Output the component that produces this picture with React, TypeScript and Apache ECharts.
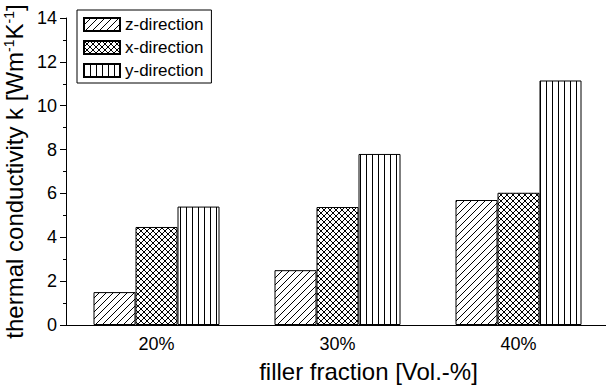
import React, { useEffect, useRef } from 'react';
import * as echarts from 'echarts';

const categories = ['20%', '30%', '40%'];
const seriesNames = ['z-direction', 'x-direction', 'y-direction'];
const zDirection = [1.5, 2.5, 5.7];
const xDirection = [4.47, 5.38, 6.03];
const yDirection = [5.4, 7.8, 11.15];
const yMin = 0;
const yMax = 14;
const yInterval = 2;

const FONT = '"Liberation Sans", Arial, Helvetica, sans-serif';

function tile(w: number, h: number, d: string) {
  const svg = `<svg xmlns="http://www.w3.org/2000/svg" width="${w}" height="${h}"><rect width="${w}" height="${h}" fill="#fff"/><path d="${d}" stroke="#000" stroke-width="1" fill="none"/></svg>`;
  return {
    image: 'data:image/svg+xml;charset=utf-8,' + encodeURIComponent(svg),
    repeat: 'repeat',
    imageWidth: w,
    imageHeight: h,
  } as any;
}

const diagPattern = tile(7, 7, 'M-1,8 L8,-1 M-1,1 L1,-1 M6,8 L8,6');
const crossPattern = tile(6, 6, 'M-1,-1 L7,7 M-1,7 L7,-1');
const vertPattern = tile(6, 6, 'M0.5,0 L0.5,6');

export default function App() {
  const ref = useRef<HTMLDivElement>(null);
  useEffect(() => {
    if (!ref.current) return;
    const chart = echarts.init(ref.current, null, { renderer: 'svg' });
    const patterns = [diagPattern, crossPattern, vertPattern];
    const values = [zDirection, xDirection, yDirection];
    chart.setOption({
      animation: false,
      backgroundColor: '#fff',
      textStyle: { fontFamily: FONT },
      grid: { left: 66, right: -3, top: 18, bottom: 66, containLabel: false, outerBoundsMode: 'none' },
      legend: {
        orient: 'vertical',
        left: 77,
        top: 10,
        icon: 'rect',
        itemWidth: 36,
        itemHeight: 13,
        itemGap: 6,
        padding: [6, 8, 4, 6],
        borderColor: '#000',
        borderWidth: 1,
        data: seriesNames,
        textStyle: { fontSize: 17, color: '#000', fontFamily: FONT },
      },
      xAxis: {
        type: 'category',
        data: categories,
        name: 'filler fraction [Vol.-%]',
        nameLocation: 'middle',
        nameGap: 34,
        nameTextStyle: { fontSize: 24, color: '#000', fontFamily: FONT, padding: [0, 0, 0, 62] },
        axisLine: { lineStyle: { color: '#000', width: 1 } },
        axisTick: { alignWithLabel: true, length: 5, lineStyle: { color: '#000' } },
        axisLabel: { fontSize: 18, color: '#000', margin: 10, fontFamily: FONT },
        splitLine: { show: false },
      },
      yAxis: {
        type: 'value',
        min: yMin,
        max: yMax,
        interval: yInterval,
        name: 'thermal conductivity k [Wm{sup|-1}K{sup|-1}]',
        nameLocation: 'middle',
        nameRotate: 90,
        nameGap: 26,
        nameTextStyle: {
          fontSize: 24,
          color: '#000',
          fontFamily: FONT,
          rich: {
            sup: { fontSize: 14, verticalAlign: 'top', color: '#000', fontFamily: FONT },
          },
        },
        axisLine: { show: true, lineStyle: { color: '#000', width: 1 } },
        axisTick: { show: true, length: 6, lineStyle: { color: '#000' } },
        minorTick: { show: true, splitNumber: 2, length: 3, lineStyle: { color: '#000' } },
        axisLabel: { fontSize: 18, color: '#000', margin: 9, fontFamily: FONT },
        splitLine: { show: false },
        minorSplitLine: { show: false },
      },
      series: seriesNames.map((name, i) => ({
        name,
        type: 'bar',
        data: values[i],
        barWidth: 42,
        barGap: '0%',
        itemStyle: { color: patterns[i], borderColor: '#000', borderWidth: 1 },
        emphasis: { disabled: true },
      })),
    });
    return () => chart.dispose();
  }, []);
  return (
    <div
      ref={ref}
      style={{ position: 'fixed', left: 0, top: 0, width: 606, height: 391, background: '#fff' }}
    />
  );
}
